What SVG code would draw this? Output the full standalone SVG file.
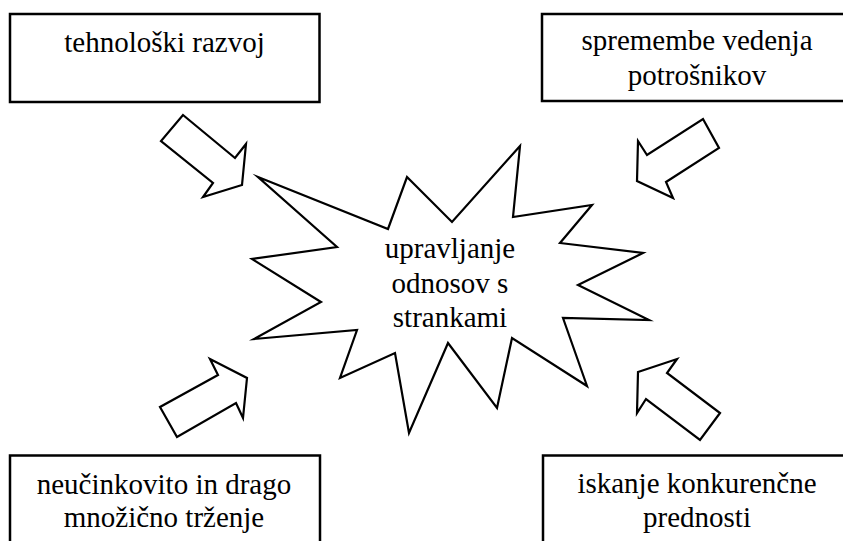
<svg xmlns="http://www.w3.org/2000/svg" width="843" height="541" viewBox="0 0 843 541">
  <style>
    .box { fill: #fff; stroke: #000; stroke-width: 2.5; }
    .shape { fill: #fff; stroke: #000; stroke-width: 2.2; stroke-linejoin: miter; stroke-miterlimit: 20; }
    .lbl { font-family: 'Liberation Serif', 'DejaVu Serif', serif; font-size: 29px; fill: #000; text-anchor: middle; }
  </style>
  <rect width="843" height="541" fill="#fff"/>

  <!-- outer factor boxes -->
  <g id="box-tehnoloski">
    <rect class="box" x="10" y="14" width="309.5" height="88"/>
    <text class="lbl" x="164.5" y="52" font-family="Liberation Serif, serif">tehnološki razvoj</text>
  </g>
  <g id="box-potrosniki">
    <rect class="box" x="542" y="14" width="310" height="87"/>
    <text class="lbl" x="697" y="50" font-family="Liberation Serif, serif">spremembe vedenja</text>
    <text class="lbl" x="697" y="85" font-family="Liberation Serif, serif">potrošnikov</text>
  </g>
  <g id="box-trzenje">
    <rect class="box" x="10" y="455.5" width="310" height="100"/>
    <text class="lbl" x="164" y="494" font-family="Liberation Serif, serif">neučinkovito in drago</text>
    <text class="lbl" x="164" y="527" font-family="Liberation Serif, serif">množično trženje</text>
  </g>
  <g id="box-prednost">
    <rect class="box" x="543" y="455.5" width="310" height="100"/>
    <text class="lbl" x="697" y="493" font-family="Liberation Serif, serif">iskanje konkurenčne</text>
    <text class="lbl" x="697" y="527" font-family="Liberation Serif, serif">prednosti</text>
  </g>

  <!-- central starburst -->
  <g id="crm">
    <polygon class="shape" points="258,177 388,229 407,177 452,222 520,146 513,217 592,205 560,243 643,253 578,285 649,320 563,318 587,386 512,338 497,408 448,343 409,433 395,353 340,378 357,330 254,339 321,302 252,259 337,247"/>
    <text class="lbl" x="450" y="258" font-family="Liberation Serif, serif">upravljanje</text>
    <text class="lbl" x="450" y="293" font-family="Liberation Serif, serif">odnosov s</text>
    <text class="lbl" x="450" y="327" font-family="Liberation Serif, serif">strankami</text>
  </g>

  <!-- block arrows pointing at the centre -->
  <g id="connectors">
    <polygon class="shape" points="183,115 235,158 246,144 242,185 203,197 213,183 161,141"/>
    <polygon class="shape" points="703,119 719,148 666,182 673,198 637,181 638,141 647,155"/>
    <polygon class="shape" points="160,407 177,437 236,403 243,418 247,378 210,359 218,375"/>
    <polygon class="shape" points="720,413 700,440 646,399 637,413 638,372 677,359 667,373"/>
  </g>
</svg>
